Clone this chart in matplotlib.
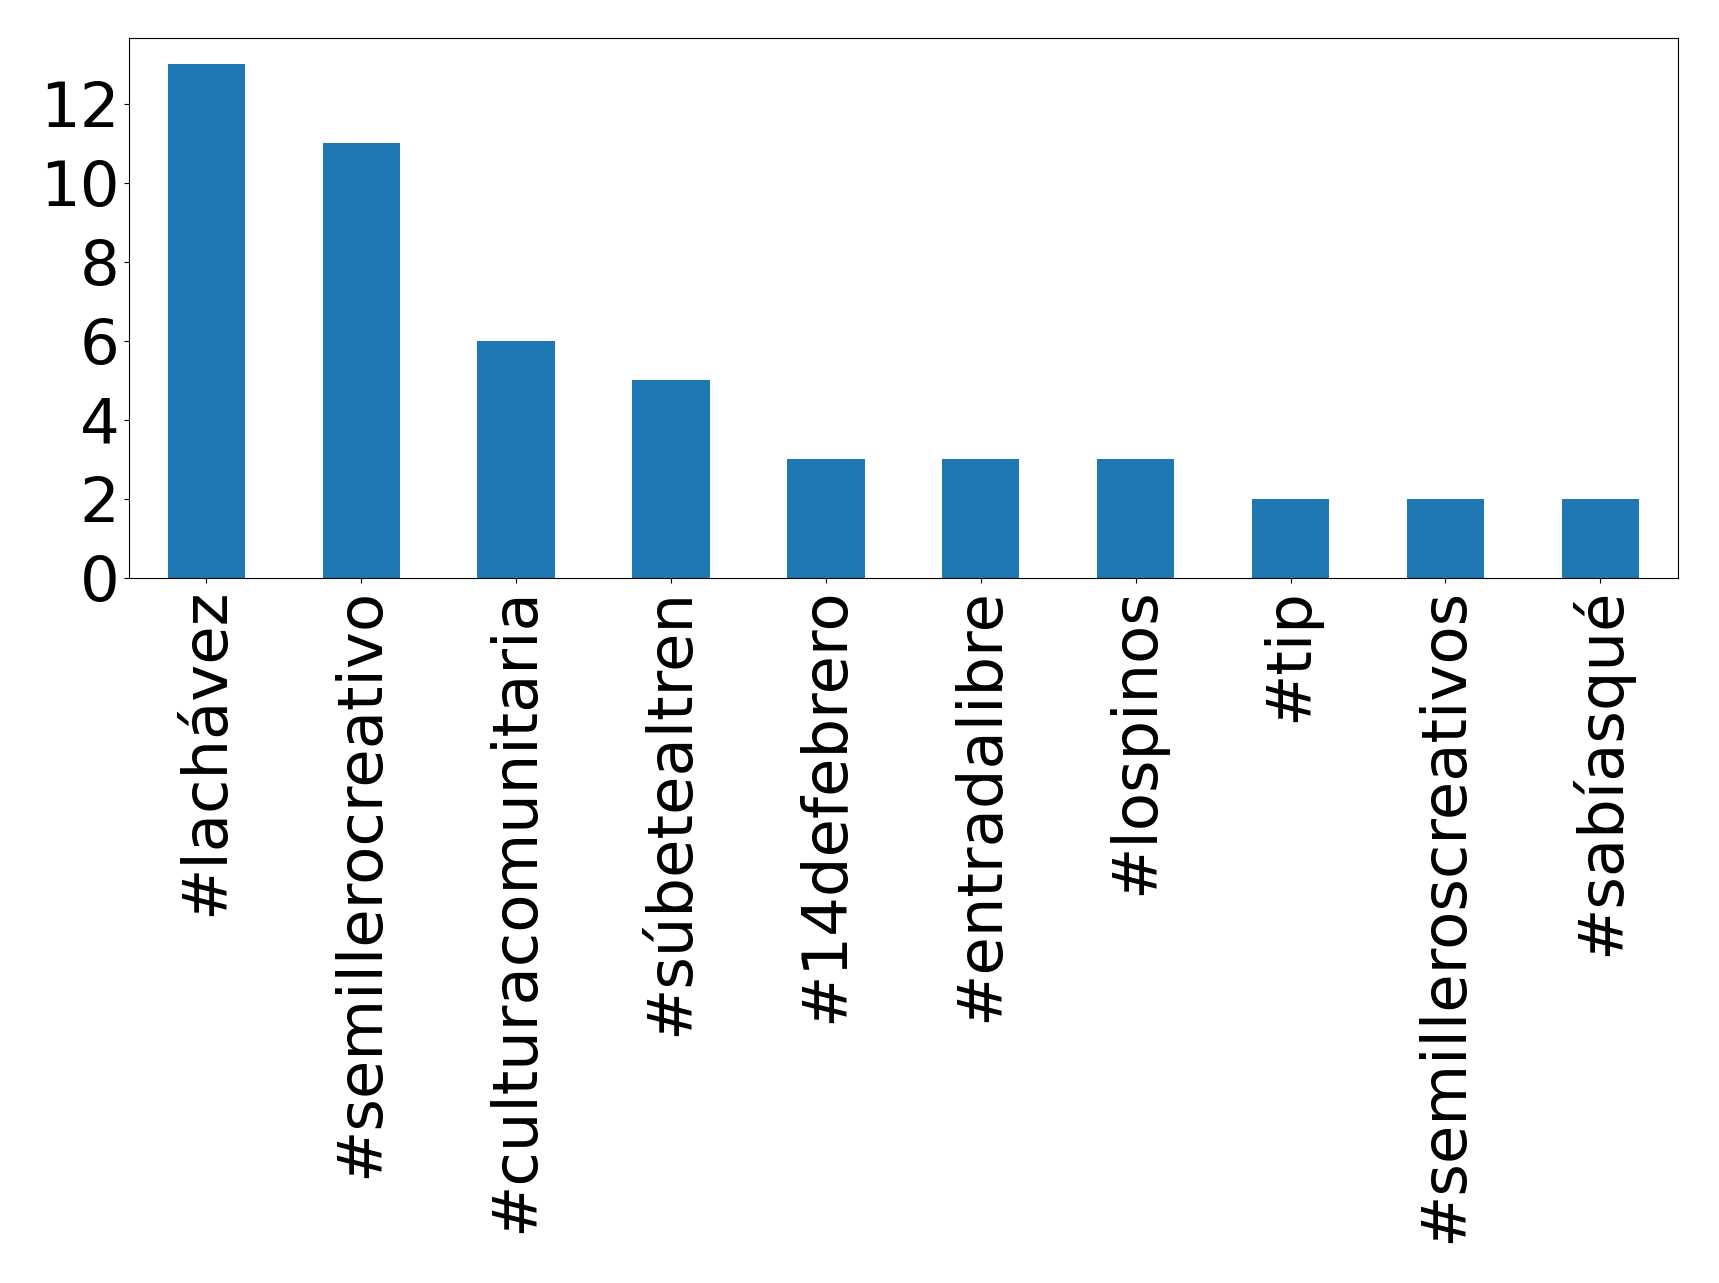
import matplotlib
matplotlib.use("Agg")
import matplotlib.pyplot as plt

categories = ["#lachávez", "#semillerocreativo", "#culturacomunitaria", "#súbetealtren",
              "#14defebrero", "#entradalibre", "#lospinos", "#tip",
              "#semilleroscreativos", "#sabíasqué"]
values = [13, 11, 6, 5, 3, 3, 3, 2, 2, 2]

fig = plt.figure(figsize=(17.19, 12.83), dpi=100)
ax = fig.add_axes([0.075, 0.5495, 0.901, 0.4205])
x = list(range(len(categories)))
ax.bar(x, values, width=0.5, color="#1f77b4")
ax.set_xlim(-0.5, len(categories) - 0.5)
ax.set_ylim(0, 13.65)
ax.set_xticks(x)
ax.set_xticklabels(categories, rotation=90, fontsize=45)
ax.set_yticks([0, 2, 4, 6, 8, 10, 12])
ax.tick_params(axis="y", labelsize=45)
fig.savefig("out.png", dpi=100)
